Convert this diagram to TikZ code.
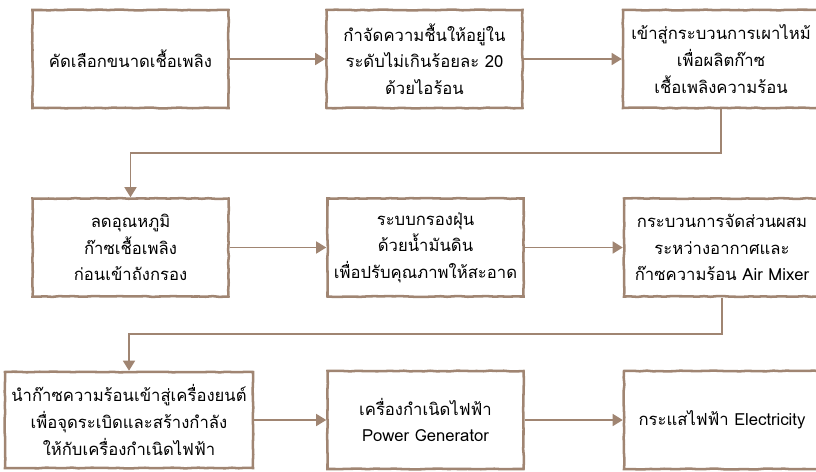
\documentclass[tikz,border=0pt]{standalone}
\usepackage{fontspec}
\newfontfamily\thaifont[Script=Thai]{Loma}
\usetikzlibrary{arrows.meta,decorations.pathmorphing}
\definecolor{brn}{HTML}{A08572}

\begin{document}
\begin{tikzpicture}[x=0.75pt,y=-0.75pt,
    box/.style={draw=brn,line width=1.9pt,fill=white,inner sep=0pt,align=center,
      minimum width=147pt,minimum height=73.5pt,
      decorate,decoration={random steps,segment length=5pt,amplitude=0.3pt},
      font=\thaifont\fontsize{12.5}{20}\selectfont},
    widebox/.style={box,minimum width=186pt,minimum height=72pt},
    link/.style={draw=brn,line width=1.1pt,-{Triangle[length=7.5pt,width=9pt]}}]
    \useasboundingbox (0,0) rectangle (816,471);
    % row 1
    \node[box] (a1) at (130.5,59) {คัดเลือกขนาดเชื้อเพลิง};
    \node[box] (a2) at (424.5,59) {กำจัดความชื้นให้อยู่ใน\\ระดับไม่เกินร้อยละ 20\\ด้วยไอร้อน};
    \node[box] (a3) at (721,59) {เข้าสู่กระบวนการเผาไหม้\\เพื่อผลิตก๊าซ\\เชื้อเพลิงความร้อน};
    % row 2
    \node[box] (b1) at (130.5,247.5) {ลดอุณหภูมิ\\ก๊าซเชื้อเพลิง\\ก่อนเข้าถังกรอง};
    \node[box] (b2) at (425.5,247.5) {ระบบกรองฝุ่น\\ด้วยน้ำมันดิน\\เพื่อปรับคุณภาพให้สะอาด};
    \node[box] (b3) at (722,247.5) {กระบวนการจัดส่วนผสม\\ระหว่างอากาศและ\\ก๊าซความร้อน Air Mixer};
    % row 3
    \node[widebox] (c1) at (129,420) {นำก๊าซความร้อนเข้าสู่เครื่องยนต์\\เพื่อจุดระเบิดและสร้างกำลัง\\ให้กับเครื่องกำเนิดไฟฟ้า};
    \node[box] (c2) at (425.5,420) {เครื่องกำเนิดไฟฟ้า\\Power Generator};
    \node[box] (c3) at (722,420) {กระแสไฟฟ้า Electricity};
    \coordinate (k1) at (0,153);
    \coordinate (k2) at (0,334);
    \draw[link] (a1) -- (a2);
    \draw[link] (a2) -- (a3);
    \draw[link] (a3.south) |- (b1.north |- k1) -- (b1.north);
    \draw[link] (b1) -- (b2);
    \draw[link] (b2) -- (b3);
    \draw[link] (b3.south) |- (c1.north |- k2) -- (c1.north);
    \draw[link] (c1) -- (c2);
    \draw[link] (c2) -- (c3);
\end{tikzpicture}
\end{document}
